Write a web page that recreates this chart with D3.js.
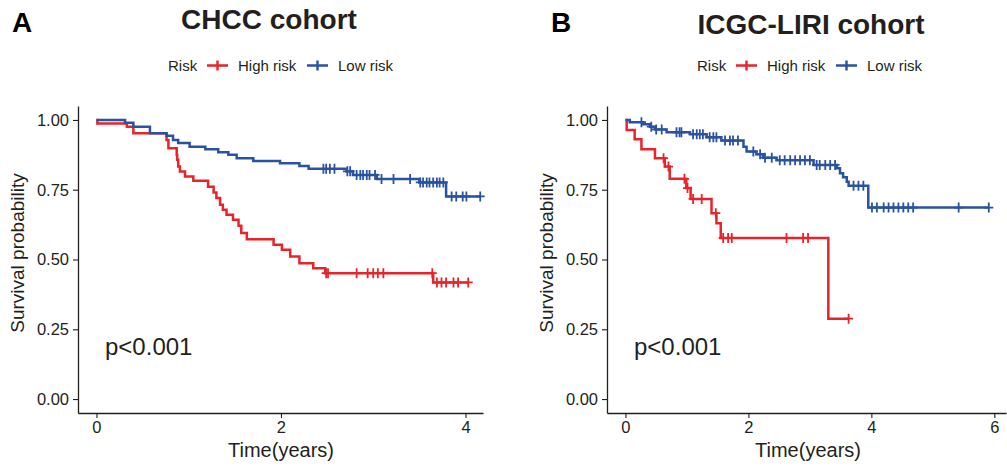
<!DOCTYPE html>
<html>
<head>
<meta charset="utf-8">
<script src="https://cdn.jsdelivr.net/npm/d3@7"></script>
<style>
  body { margin: 0; background: #fff; }
  svg { font-family: "Liberation Sans", Arial, sans-serif; }
</style>
</head>
<body>
<svg id="chart" width="1007" height="468"></svg>
<script>
// Kaplan-Meier step data (time in years, survival probability)

// Panel A: CHCC cohort
const chccHighTime = [0, 0.01, 0.33, 0.40, 0.76, 0.78, 0.87, 0.875, 0.886, 0.905, 0.96, 1.05, 1.21, 1.27, 1.30, 1.34, 1.37, 1.41, 1.48, 1.54, 1.57, 1.63, 1.92, 2.01, 2.10, 2.20, 2.35, 2.48, 3.65]
const chccHighSurv = [1, 0.987, 0.976, 0.952, 0.928, 0.899, 0.875, 0.857, 0.833, 0.815, 0.797, 0.782, 0.761, 0.740, 0.720, 0.696, 0.678, 0.660, 0.642, 0.621, 0.595, 0.573, 0.553, 0.535, 0.511, 0.487, 0.469, 0.451, 0.418]
const chccHighCensor = [2.49, 2.51, 2.82, 2.94, 3.00, 3.05, 3.11, 3.64, 3.69, 3.74, 3.79, 3.87, 3.92, 4.03]

const chccLowTime = [0, 0.31, 0.40, 0.58, 0.76, 0.83, 0.886, 1.01, 1.18, 1.32, 1.43, 1.52, 1.70, 1.99, 2.20, 2.30, 2.71, 2.78, 3.04, 3.50, 3.79]
const chccLowSurv = [1, 0.99, 0.976, 0.952, 0.943, 0.928, 0.917, 0.904, 0.895, 0.884, 0.875, 0.863, 0.853, 0.845, 0.835, 0.825, 0.816, 0.803, 0.788, 0.776, 0.726]
const chccLowCensor = [2.46, 2.49, 2.53, 2.58, 2.72, 2.75, 2.82, 2.86, 2.89, 2.93, 2.96, 3.02, 3.09, 3.22, 3.40, 3.51, 3.54, 3.58, 3.61, 3.65, 3.69, 3.72, 3.76, 3.85, 3.90, 3.97, 4.01, 4.16]

// Panel B: ICGC-LIRI cohort
const icgcHighTime = [0, 0.02, 0.15, 0.26, 0.48, 0.64, 0.72, 0.99, 1.06, 1.40, 1.48, 1.55, 3.30]
const icgcHighSurv = [1, 0.964, 0.931, 0.895, 0.863, 0.833, 0.789, 0.756, 0.717, 0.666, 0.630, 0.577, 0.288]
const icgcHighCensor = [0.62, 0.70, 0.96, 1.01, 1.10, 1.24, 1.47, 1.59, 1.67, 1.73, 2.62, 2.89, 2.97, 3.63]

const icgcLowTime = [0, 0.07, 0.29, 0.40, 0.48, 0.67, 1.05, 1.32, 1.56, 1.92, 1.97, 2.13, 2.24, 2.46, 3.06, 3.44, 3.49, 3.54, 3.60, 3.63, 3.95]
const icgcLowSurv = [1, 0.992, 0.985, 0.976, 0.966, 0.956, 0.949, 0.938, 0.926, 0.904, 0.887, 0.877, 0.865, 0.856, 0.839, 0.827, 0.809, 0.795, 0.779, 0.764, 0.686]
const icgcLowCensor = [0.26, 0.42, 0.50, 0.59, 0.83, 0.88, 0.91, 1.10, 1.16, 1.21, 1.26, 1.37, 1.43, 1.48, 1.62, 1.70, 1.75, 1.83, 2.08, 2.19, 2.27, 2.38, 2.51, 2.59, 2.68, 2.76, 2.84, 2.92, 3.00, 3.11, 3.16, 3.25, 3.33, 3.41, 3.71, 3.79, 3.87, 4.01, 4.09, 4.20, 4.28, 4.36, 4.44, 4.52, 4.60, 4.68, 5.42, 5.91]

const groupNames = ["High risk", "Low risk"]
const groupColors = ["#E8232A", "#2A52A2"]
const yTicks = [0, 0.25, 0.5, 0.75, 1]
const chccXTicks = [0, 2, 4]
const icgcXTicks = [0, 2, 4, 6]

const textColor = "#231F20"
const svg = d3.select("#chart")

// survival at time t (step function, events at time <= t)
function survAt(times, surv, t) {
  let s = surv[0]
  for (let i = 0; i < times.length; i++) {
    if (times[i] <= t) s = surv[i]
  }
  return s
}

function drawPanel(opts) {
  const g = svg.append("g")

  const x = d3.scaleLinear().domain(opts.xDomain).range([opts.left, opts.right])
  const y = d3.scaleLinear().domain([-0.05, 1.05]).range([413, 106])

  // axes
  const xAxis = g.append("g")
    .attr("transform", "translate(0,413)")
    .call(d3.axisBottom(x).tickValues(opts.xTicks).tickFormat(d3.format("d"))
      .tickSize(5).tickSizeOuter(0).tickPadding(3))
  const yAxis = g.append("g")
    .attr("transform", `translate(${opts.left},0)`)
    .call(d3.axisLeft(y).tickValues(yTicks).tickFormat(d3.format(".2f"))
      .tickSize(5).tickSizeOuter(0).tickPadding(4))

  ;[xAxis, yAxis].forEach(ax => {
    ax.select(".domain").attr("stroke", textColor).attr("stroke-width", 1.3)
    ax.selectAll(".tick line").attr("stroke", textColor).attr("stroke-width", 1.1)
    ax.selectAll(".tick text")
      .attr("fill", textColor)
      .attr("font-size", "16.5px")
      .attr("font-family", "Liberation Sans, Arial, sans-serif")
  })

  // curves
  const line = d3.line()
    .x(d => x(d[0]))
    .y(d => y(d[1]))
    .curve(d3.curveStepAfter)

  opts.groups.forEach((grp, i) => {
    const end = d3.max(grp.censor)
    const pts = grp.time.map((t, k) => [t, grp.surv[k]])
    pts.push([end, grp.surv[grp.surv.length - 1]])

    g.append("path")
      .attr("d", line(pts))
      .attr("fill", "none")
      .attr("stroke", groupColors[i])
      .attr("stroke-width", 2.5)

    g.selectAll(null)
      .data(grp.censor)
      .enter()
      .append("path")
      .attr("d", t => {
        const cx = x(t), cy = y(survAt(grp.time, grp.surv, t))
        return `M${cx},${cy - 5}V${cy + 5}M${cx - 4.5},${cy}H${cx + 4.5}`
      })
      .attr("stroke", groupColors[i])
      .attr("stroke-width", 1.8)
  })

  // axis titles
  g.append("text")
    .text("Time(years)")
    .attr("x", opts.xLabelX)
    .attr("y", 457)
    .attr("text-anchor", "middle")
    .attr("font-size", "20px")
    .attr("fill", textColor)

  g.append("text")
    .text("Survival probability")
    .attr("transform", `translate(${opts.yLabelX},253) rotate(-90)`)
    .attr("text-anchor", "middle")
    .attr("font-size", "19px")
    .attr("fill", textColor)

  // p value
  g.append("text")
    .text("p<0.001")
    .attr("x", opts.left + 27)
    .attr("y", 355)
    .attr("font-size", "24px")
    .attr("fill", textColor)

  // panel letter and title
  g.append("text")
    .text(opts.letter)
    .attr("x", opts.letterX)
    .attr("y", 32)
    .attr("font-size", "28px")
    .attr("font-weight", "bold")
    .attr("fill", "#000")

  g.append("text")
    .text(opts.title)
    .attr("x", opts.titleX)
    .attr("y", opts.titleY)
    .attr("text-anchor", "middle")
    .attr("font-size", "28px")
    .attr("font-weight", "bold")
    .attr("fill", textColor)

  // legend
  const legend = g.append("g")
    .attr("transform", `translate(${opts.legendX},0)`)

  legend.append("text")
    .text("Risk")
    .attr("x", 0)
    .attr("y", 71)
    .attr("font-size", "15px")
    .attr("fill", textColor)

  const keyX = [39, 139]
  groupNames.forEach((name, i) => {
    legend.append("path")
      .attr("d", `M${keyX[i]},65.5H${keyX[i] + 21}M${keyX[i] + 10.5},60.5V70.5`)
      .attr("stroke", groupColors[i])
      .attr("stroke-width", 2.4)
    legend.append("text")
      .text(name)
      .attr("x", keyX[i] + 31)
      .attr("y", 71)
      .attr("font-size", "15px")
      .attr("fill", textColor)
  })
}

drawPanel({
  left: 78, right: 483, xDomain: [-0.2, 4.19], xTicks: chccXTicks,
  xLabelX: 281, yLabelX: 24, letter: "A", letterX: 12,
  title: "CHCC cohort", titleX: 269, titleY: 29, legendX: 168,
  groups: [
    { time: chccHighTime, surv: chccHighSurv, censor: chccHighCensor },
    { time: chccLowTime, surv: chccLowSurv, censor: chccLowCensor }
  ]
})

drawPanel({
  left: 607, right: 1006, xDomain: [-0.3, 6.19], xTicks: icgcXTicks,
  xLabelX: 808, yLabelX: 553, letter: "B", letterX: 551,
  title: "ICGC-LIRI cohort", titleX: 811, titleY: 34, legendX: 697,
  groups: [
    { time: icgcHighTime, surv: icgcHighSurv, censor: icgcHighCensor },
    { time: icgcLowTime, surv: icgcLowSurv, censor: icgcLowCensor }
  ]
})
</script>
</body>
</html>
